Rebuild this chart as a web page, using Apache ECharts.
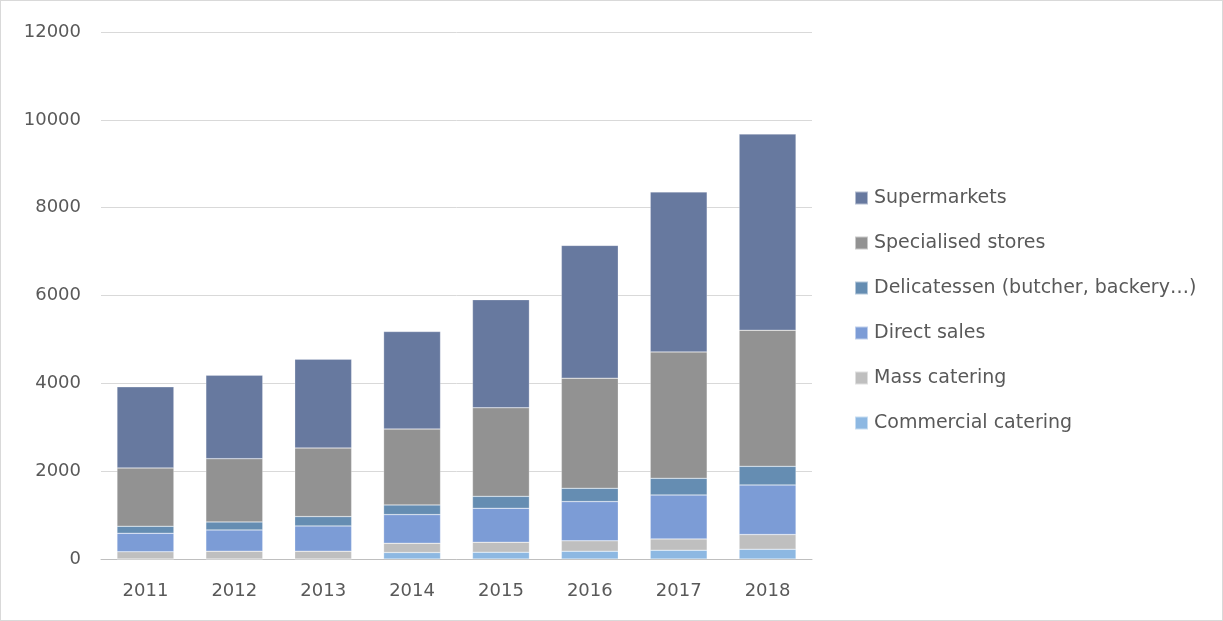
<!DOCTYPE html>
<html>
<head>
<meta charset="utf-8">
<script src="https://cdn.jsdelivr.net/npm/echarts@6/dist/echarts.min.js"></script>
<style>
  html, body { margin: 0; padding: 0; background: #fff; }
  #chart { width: 1223px; height: 621px; box-sizing: border-box; border: 1px solid #d9d9d9; }
</style>
</head>
<body>
<div id="chart"></div>
<script>
const years = ["2011", "2012", "2013", "2014", "2015", "2016", "2017", "2018"];
const commercialCatering = [0, 0, 0, 148, 155, 178, 201, 224];
const massCatering = [164, 178, 178, 211, 227, 235, 257, 333];
const directSales = [422, 485, 576, 652, 773, 894, 1000, 1129];
const delicatessen = [160, 182, 212, 221, 272, 303, 379, 424];
const specialisedStores = [1327, 1439, 1561, 1727, 2016, 2508, 2879, 3099];
const supermarkets = [1847, 1902, 2023, 2221, 2462, 3023, 3643, 4468];

const font = "DejaVu Sans";
const textColor = "#595959";

const seriesDefs = [
  { name: "Commercial catering", data: commercialCatering, color: "#8db8e2" },
  { name: "Mass catering", data: massCatering, color: "#bfbfbf" },
  { name: "Direct sales", data: directSales, color: "#7c9cd6" },
  { name: "Delicatessen (butcher, backery…)", data: delicatessen, color: "#658db2" },
  { name: "Specialised stores", data: specialisedStores, color: "#929292" },
  { name: "Supermarkets", data: supermarkets, color: "#67799f" },
];

const chart = echarts.init(document.getElementById("chart"));

chart.setOption({
  backgroundColor: "#fff",
  animation: false,
  grid: { left: 100, right: 410, top: 31, bottom: 61 },
  legend: {
    orient: "vertical",
    left: 848,
    top: 182,
    itemWidth: 13,
    itemHeight: 13,
    itemGap: 25,
    icon: "rect",
    data: seriesDefs.map((s) => s.name).reverse(),
    textStyle: { color: textColor, fontSize: 19, lineHeight: 20, fontFamily: font, padding: [0, 0, 0, 1] },
  },
  xAxis: {
    type: "category",
    data: years,
    axisLine: { lineStyle: { color: "#bfbfbf", width: 1 } },
    axisTick: { show: false },
    axisLabel: { color: textColor, fontSize: 18, fontFamily: font, margin: 23 },
  },
  yAxis: {
    type: "value",
    min: 0,
    max: 12000,
    interval: 2000,
    axisLine: { show: false },
    axisTick: { show: false },
    axisLabel: {
      color: textColor,
      fontSize: 18,
      fontFamily: font,
      margin: 20,
      formatter: (v) => String(v),
    },
    splitLine: { lineStyle: { color: "#d9d9d9", width: 1 } },
  },
  series: seriesDefs.map((s) => ({
    name: s.name,
    type: "bar",
    stack: "total",
    barWidth: "64%",
    data: s.data,
    itemStyle: { color: s.color, borderColor: "rgba(255,255,255,0.5)", borderWidth: 0.5 },
  })),
});
</script>
</body>
</html>
